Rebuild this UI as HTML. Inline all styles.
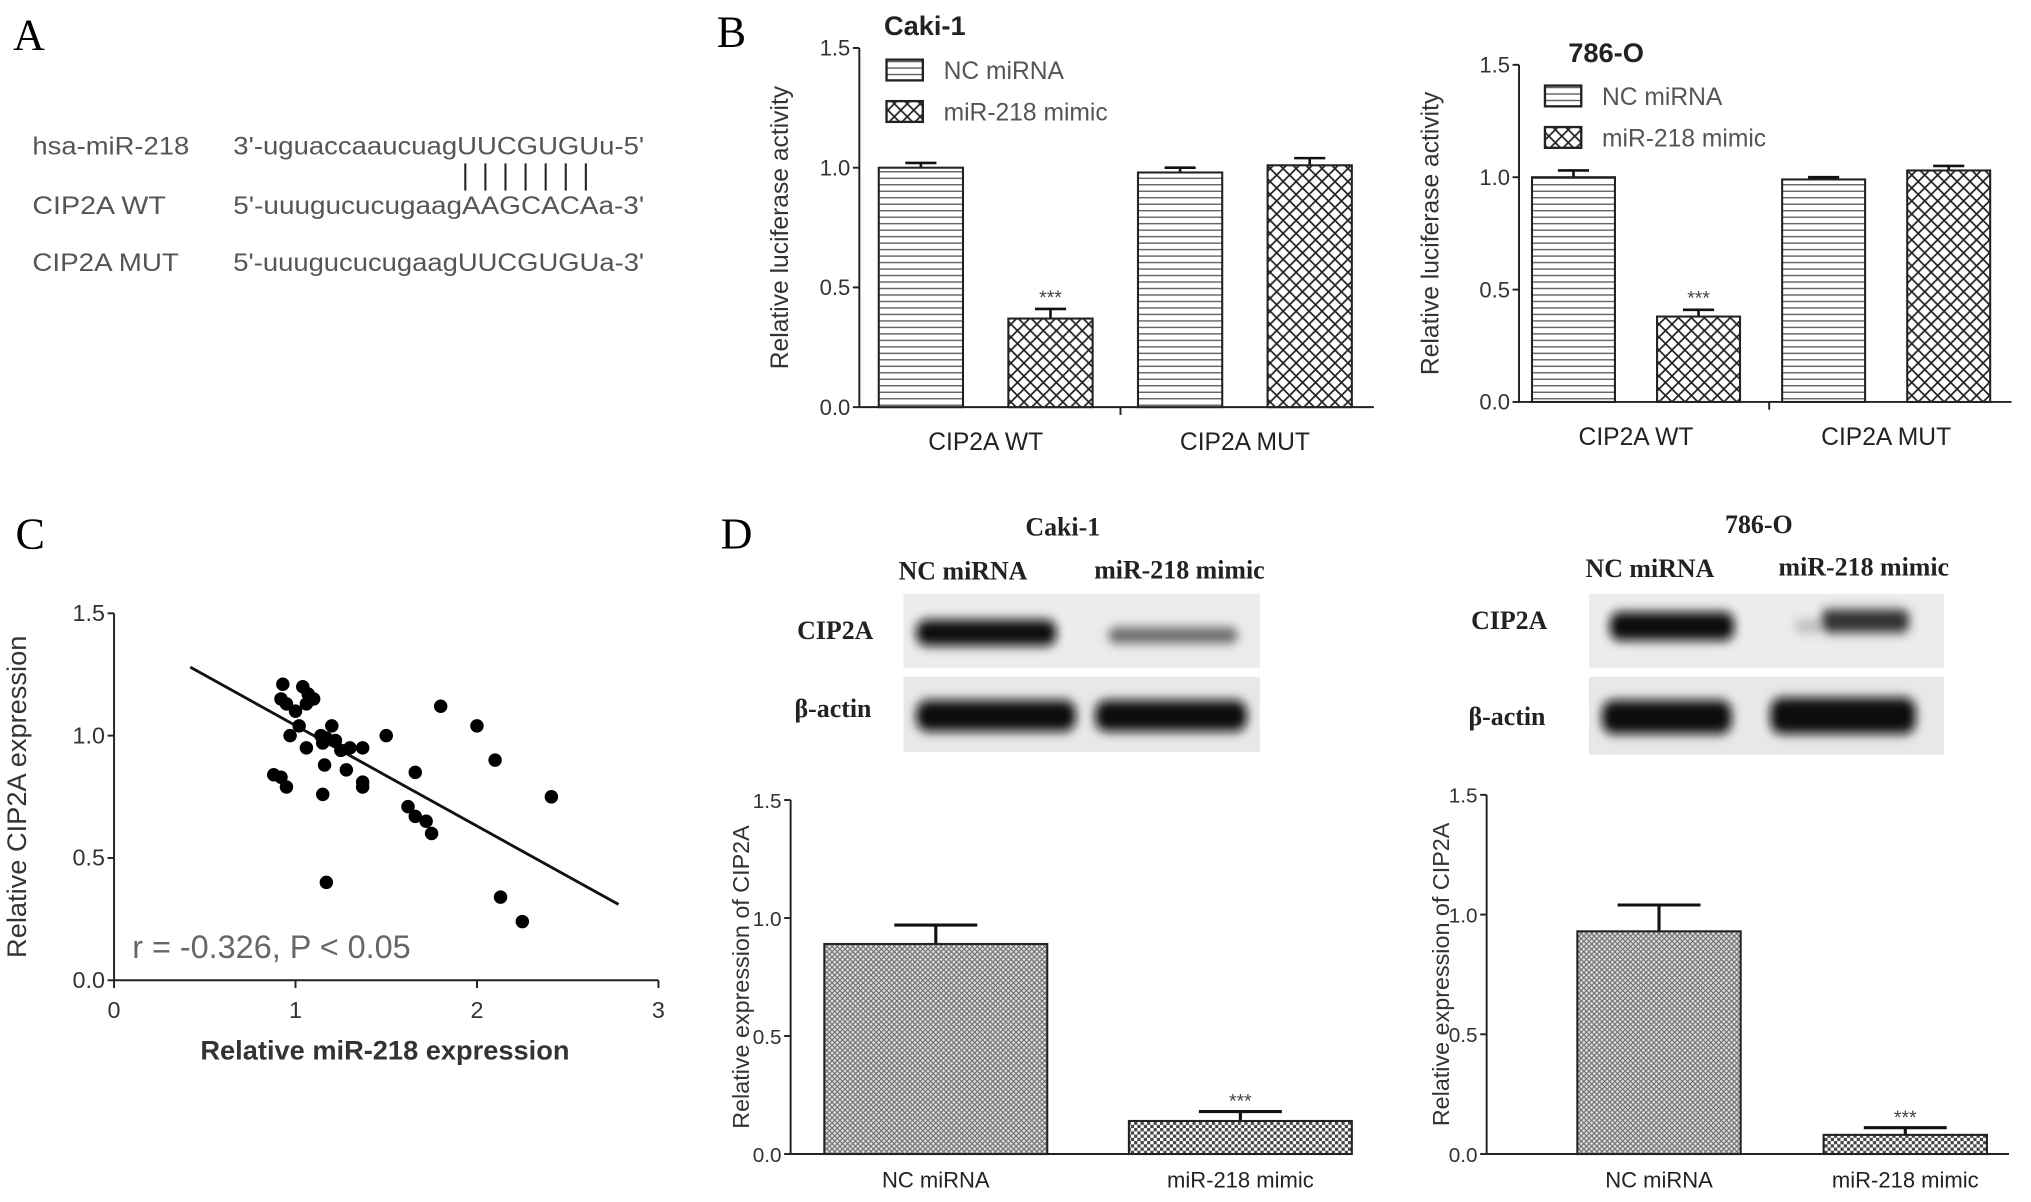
<!DOCTYPE html>
<html><head><meta charset="utf-8"><style>
html,body{margin:0;padding:0;background:#fff}
svg{display:block}
.s{font-family:"Liberation Sans",sans-serif}
.r{font-family:"Liberation Serif",serif}
</style></head><body>
<svg id="fig" width="2031" height="1202" viewBox="0 0 1567 927" preserveAspectRatio="none" xmlns="http://www.w3.org/2000/svg">
<defs>
<pattern id="ph" width="6" height="5" patternUnits="userSpaceOnUse"><rect width="6" height="5" fill="#fff"/><line x1="0" y1="2.5" x2="6" y2="2.5" stroke="#555" stroke-width="1"/></pattern>
<pattern id="px" width="10" height="10" patternUnits="userSpaceOnUse"><rect width="10" height="10" fill="#fff"/><path d="M0,0L10,10M10,0L0,10" stroke="#222" stroke-width="1.3"/></pattern>
<pattern id="pd" width="4" height="4" patternUnits="userSpaceOnUse"><rect width="4" height="4" fill="#ddd"/><path d="M0,0L4,4M4,0L0,4" stroke="#666" stroke-width="0.8"/></pattern>
<pattern id="pc" width="5" height="5" patternUnits="userSpaceOnUse"><rect width="5" height="5" fill="#fff"/><rect width="2.5" height="2.5" fill="#444"/><rect x="2.5" y="2.5" width="2.5" height="2.5" fill="#444"/></pattern>
<filter id="bl" x="-20%" y="-50%" width="140%" height="200%"><feGaussianBlur stdDeviation="4"/></filter>
</defs>

<!-- Panel A -->
<text class="r" x="10" y="38" font-size="34">A</text>
<g class="s" font-size="19" fill="#555">
<text x="25" y="119" textLength="121" lengthAdjust="spacingAndGlyphs">hsa-miR-218</text>
<text x="180" y="119" textLength="317" lengthAdjust="spacingAndGlyphs">3'-uguaccaaucuagUUCGUGUu-5'</text>
<text x="25" y="165" textLength="103" lengthAdjust="spacingAndGlyphs">CIP2A WT</text>
<text x="180" y="165" textLength="317" lengthAdjust="spacingAndGlyphs">5'-uuugucucugaagAAGCACAa-3'</text>
<text x="25" y="209" textLength="113" lengthAdjust="spacingAndGlyphs">CIP2A MUT</text>
<text x="180" y="209" textLength="317" lengthAdjust="spacingAndGlyphs">5'-uuugucucugaagUUCGUGUa-3'</text>
<g id="pairs" stroke="#222" stroke-width="1.6"></g>
</g>

<text class="r" x="553" y="36" font-size="34">B</text>
<text class="r" x="12" y="423" font-size="34">C</text>
<text class="r" x="556" y="423" font-size="34">D</text>

<g id="charts"></g>

<!-- Blots -->
<g class="r" font-weight="bold" fill="#222">
<text x="820" y="413" font-size="20" text-anchor="middle">Caki-1</text>
<text x="743" y="447" font-size="20" text-anchor="middle">NC miRNA</text>
<text x="910" y="446" font-size="20" text-anchor="middle">miR-218 mimic</text>
<text x="615" y="493" font-size="20">CIP2A</text>
<text x="613" y="553" font-size="20">β-actin</text>
<rect x="697" y="458" width="275" height="57" fill="#ececec"/>
<rect x="697" y="522" width="275" height="58" fill="#e8e8e8"/>
<g filter="url(#bl)">
<rect x="707" y="478" width="108" height="20" rx="8" fill="#111"/>
<rect x="855" y="484" width="100" height="12" rx="6" fill="#666"/>
<rect x="707" y="540" width="123" height="24" rx="9" fill="#0a0a0a"/>
<rect x="845" y="540" width="117" height="24" rx="9" fill="#0a0a0a"/>
</g>
</g>
<g class="r" font-weight="bold" fill="#222">
<text x="1357" y="411" font-size="20" text-anchor="middle">786-O</text>
<text x="1273" y="445" font-size="20" text-anchor="middle">NC miRNA</text>
<text x="1438" y="444" font-size="20" text-anchor="middle">miR-218 mimic</text>
<text x="1135" y="485" font-size="20">CIP2A</text>
<text x="1133" y="559" font-size="20">β-actin</text>
<rect x="1226" y="458" width="274" height="57" fill="#ececec"/>
<rect x="1226" y="522" width="274" height="60" fill="#e8e8e8"/>
<g filter="url(#bl)">
<rect x="1242" y="472" width="96" height="22" rx="8" fill="#111"/>
<rect x="1385" y="478" width="20" height="10" rx="4" fill="#bbb"/>
<rect x="1405" y="470" width="68" height="18" rx="6" fill="#333"/>
<rect x="1236" y="540" width="100" height="26" rx="9" fill="#0a0a0a"/>
<rect x="1366" y="538" width="112" height="28" rx="9" fill="#0a0a0a"/>
</g>
</g>

<script>
// ---- Data ----
const pairCount = 7;
const bTicks = [0.0, 0.5, 1.0, 1.5];
const bGroups = ["CIP2A WT", "CIP2A MUT"];
const bSeries = ["NC miRNA", "miR-218 mimic"];
const caki1Values = [1.00, 0.37, 0.98, 1.01];
const caki1Errors = [0.02, 0.04, 0.02, 0.03];
const o786Values = [1.00, 0.38, 0.99, 1.03];
const o786Errors = [0.03, 0.03, 0.01, 0.02];
const bSig = ["", "***", "", ""];
const scatterX = [0.93,0.92,0.95,1.00,1.04,1.07,1.10,1.06,1.02,0.97,1.06,1.14,1.20,1.17,1.15,1.22,1.25,1.30,1.37,1.16,1.28,0.88,0.92,0.95,1.15,1.37,1.37,1.50,1.80,2.00,2.10,1.66,1.62,1.66,1.72,1.75,1.17,2.13,2.25,2.41];
const scatterY = [1.21,1.15,1.13,1.10,1.20,1.17,1.15,1.13,1.04,1.00,0.95,1.00,1.04,0.99,0.97,0.98,0.94,0.95,0.95,0.88,0.86,0.84,0.83,0.79,0.76,0.81,0.79,1.00,1.12,1.04,0.90,0.85,0.71,0.67,0.65,0.60,0.40,0.34,0.24,0.75];
const fitLineX = [0.42, 2.78];
const fitLineY = [1.28, 0.31];
const cXTicks = [0, 1, 2, 3];
const cYTicks = [0.0, 0.5, 1.0, 1.5];
const dCategories = ["NC miRNA", "miR-218 mimic"];
const dCaki1Values = [0.89, 0.14];
const dCaki1Errors = [0.08, 0.04];
const d786Values = [0.93, 0.08];
const d786Errors = [0.11, 0.03];
const dSig = ["", "***"];

const NS = "http://www.w3.org/2000/svg";
const root = document.getElementById('charts');
function mk(tag, attrs, parent, text) {
  const e = document.createElementNS(NS, tag);
  for (const k in attrs) e.setAttribute(k, attrs[k]);
  if (text !== undefined) e.textContent = text;
  (parent || root).appendChild(e);
  return e;
}
const fmt = v => v.toFixed(1);

// base-pair lines
const pg = document.getElementById('pairs');
for (let i = 0; i < pairCount; i++) {
  const l = mk('line', {x1: 359 + i * 15.5, y1: 126, x2: 359 + i * 15.5, y2: 147}, pg);
  
  
}

function yAxis(g, ax, y0, y1, ticks, maxV, label, lx, fs, lfs) {
  const ys = v => y0 - (v / maxV) * (y0 - y1);
  mk('line', {x1: ax, y1: y1, x2: ax, y2: y0, stroke: '#222', 'stroke-width': 1.5}, g);
  ticks.forEach(t => {
    mk('line', {x1: ax - 5, y1: ys(t), x2: ax, y2: ys(t), stroke: '#222', 'stroke-width': 1.5}, g);
    const tx = mk('text', {x: ax - 7, y: ys(t) + 6, 'text-anchor': 'end', 'font-size': fs, fill: '#333', class: 's'}, g, fmt(t));
    
    
  });
  const yl = mk('text', {x: lx, y: (y0 + y1) / 2, 'text-anchor': 'middle', 'font-size': lfs || fs + 2, fill: '#333', class: 's', transform: `rotate(-90 ${lx} ${(y0 + y1) / 2})`}, g, label);
  
  
  return ys;
}

function barPanelB(cfg) {
  const g = mk('g', {});
  
  
  const t = mk('text', {x: cfg.titleX, y: cfg.titleY, 'font-size': 21, 'font-weight': 'bold', fill: '#222', class: 's'}, g, cfg.title);
  
  
  const ys = yAxis(g, cfg.ax, cfg.y0, cfg.y1, bTicks, 1.5, 'Relative luciferase activity', cfg.lx, 17);
  mk('line', {x1: cfg.ax, y1: cfg.y0, x2: cfg.xEnd, y2: cfg.y0, stroke: '#222', 'stroke-width': 1.5}, g);
  const mid = (cfg.ax + cfg.xEnd) / 2 + 3;
  mk('line', {x1: mid, y1: cfg.y0, x2: mid, y2: cfg.y0 + 6, stroke: '#222', 'stroke-width': 1.5}, g);
  cfg.values.forEach((v, i) => {
    const x = cfg.ax + cfg.barStart + i * cfg.step;
    const top = ys(v);
    const e = ys(v + cfg.errors[i]);
    const cx = x + cfg.bw / 2;
    mk('line', {x1: cx, y1: e, x2: cx, y2: top, stroke: '#111', 'stroke-width': 2}, g);
    mk('line', {x1: cx - 12, y1: e, x2: cx + 12, y2: e, stroke: '#111', 'stroke-width': 2}, g);
    const b = mk('rect', {x: x, y: top, width: cfg.bw, height: cfg.y0 - top, fill: i % 2 ? 'url(#px)' : 'url(#ph)', stroke: '#222', 'stroke-width': 1.6}, g);
    
    
    if (bSig[i]) {
      const s = mk('text', {x: cx, y: e - 4, 'text-anchor': 'middle', 'font-size': 15, fill: '#444', class: 's'}, g, bSig[i]);
      
      
    }
  });
  bGroups.forEach((lab, j) => {
    const cx = cfg.ax + cfg.barStart + j * 2 * cfg.step + (cfg.step + cfg.bw) / 2;
    const tx = mk('text', {x: cx, y: cfg.y0 + 33, 'text-anchor': 'middle', 'font-size': 19, fill: '#222', class: 's'}, g, lab);
    
    
  });
  bSeries.forEach((lab, j) => {
    const ly = cfg.legY + j * 32;
    const r = mk('rect', {x: cfg.legX, y: ly, width: 28, height: 16, fill: j ? 'url(#px)' : 'url(#ph)', stroke: '#222', 'stroke-width': 1.8}, g);
    
    
    const tx = mk('text', {x: cfg.legX + 44, y: ly + 15, 'font-size': 19, fill: '#555', class: 's'}, g, lab);
    
    
  });
}
barPanelB({name: 'luciferase-chart-caki1', title: 'Caki-1', titleX: 682, titleY: 27, ax: 663, y0: 314, y1: 37, xEnd: 1060, lx: 608, barStart: 15, step: 100, bw: 65, values: caki1Values, errors: caki1Errors, legX: 684, legY: 46});
barPanelB({name: 'luciferase-chart-786o', title: '786-O', titleX: 1210, titleY: 48, ax: 1172, y0: 310, y1: 50, xEnd: 1552, lx: 1110, barStart: 10, step: 96.5, bw: 64, values: o786Values, errors: o786Errors, legX: 1192, legY: 66});

// Panel C scatter
(function () {
  const g = mk('g', {});
  
  
  const ax = 88, x3 = 508, y0 = 756, y1 = 473;
  const xs = v => ax + v / 3 * (x3 - ax);
  const ys = yAxis(g, ax, y0, y1, cYTicks, 1.5, 'Relative CIP2A expression', 20, 18, 21);
  mk('line', {x1: ax, y1: y0, x2: x3, y2: y0, stroke: '#222', 'stroke-width': 1.5}, g);
  cXTicks.forEach(t => {
    mk('line', {x1: xs(t), y1: y0, x2: xs(t), y2: y0 + 6, stroke: '#222', 'stroke-width': 1.5}, g);
    const tx = mk('text', {x: xs(t), y: y0 + 29, 'text-anchor': 'middle', 'font-size': 18, fill: '#333', class: 's'}, g, String(t));
    
    
  });
  const xl = mk('text', {x: 297, y: 817, 'text-anchor': 'middle', 'font-size': 21, fill: '#333', 'font-weight': 'bold', class: 's'}, g, 'Relative miR-218 expression');
  
  
  const fl = mk('line', {x1: xs(fitLineX[0]), y1: ys(fitLineY[0]), x2: xs(fitLineX[1]), y2: ys(fitLineY[1]), stroke: '#111', 'stroke-width': 2.2}, g);
  
  
  scatterX.forEach((x, i) => {
    const c = mk('circle', {cx: xs(x), cy: ys(scatterY[i]), r: 5.2, fill: '#000'}, g);
    
    
  });
  const an = mk('text', {x: 102, y: 739, 'font-size': 25, fill: '#666', class: 's'}, g, 'r = -0.326, P < 0.05');
  
  
})();

function barPanelD(cfg) {
  const g = mk('g', {});
  
  
  const ys = yAxis(g, cfg.ax, cfg.y0, cfg.y1, bTicks, 1.5, 'Relative expression of CIP2A', cfg.lx, 16, 18);
  mk('line', {x1: cfg.ax, y1: cfg.y0, x2: cfg.xEnd, y2: cfg.y0, stroke: '#222', 'stroke-width': 1.5}, g);
  cfg.values.forEach((v, i) => {
    const x = cfg.bx[i];
    const top = ys(v);
    const e = ys(v + cfg.errors[i]);
    const cx = x + cfg.bw / 2;
    mk('line', {x1: cx, y1: e, x2: cx, y2: top, stroke: '#111', 'stroke-width': 2.4}, g);
    mk('line', {x1: cx - 32, y1: e, x2: cx + 32, y2: e, stroke: '#111', 'stroke-width': 2.4}, g);
    const b = mk('rect', {x: x, y: top, width: cfg.bw, height: cfg.y0 - top, fill: i ? 'url(#pc)' : 'url(#pd)', stroke: '#222', 'stroke-width': 1.6}, g);
    
    
    if (dSig[i]) {
      const s = mk('text', {x: cx, y: e - 3, 'text-anchor': 'middle', 'font-size': 15, fill: '#444', class: 's'}, g, dSig[i]);
      
      
    }
    const tx = mk('text', {x: cx, y: cfg.y0 + 26, 'text-anchor': 'middle', 'font-size': 17, fill: '#222', class: 's'}, g, dCategories[i]);
    
    
  });
}
barPanelD({name: 'expression-chart-caki1', ax: 610, y0: 890, y1: 617, xEnd: 1020, lx: 578, bx: [636, 871], bw: 172, values: dCaki1Values, errors: dCaki1Errors});
barPanelD({name: 'expression-chart-786o', ax: 1147, y0: 890, y1: 613, xEnd: 1550, lx: 1118, bx: [1217, 1407], bw: 126, values: d786Values, errors: d786Errors});
</script>
</svg>
</body></html>
